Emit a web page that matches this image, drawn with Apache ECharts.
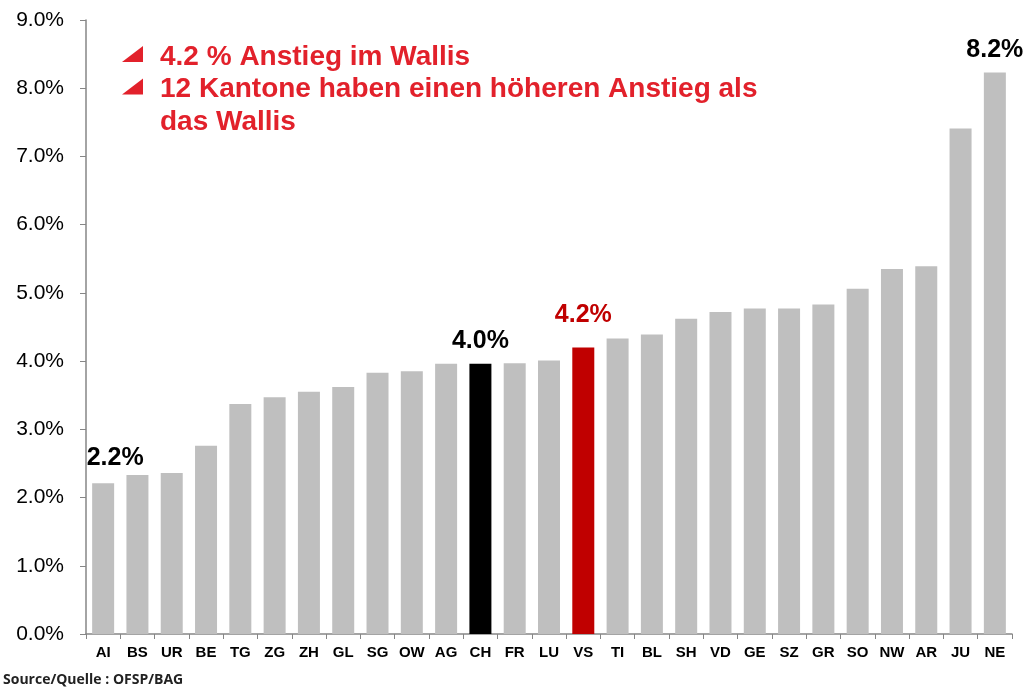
<!DOCTYPE html>
<html>
<head>
<meta charset="utf-8">
<script src="https://cdn.jsdelivr.net/npm/echarts@6/dist/echarts.min.js"></script>
<style>
  html, body { margin: 0; padding: 0; background: #fff; }
  #chart { width: 1029px; height: 689px; }
</style>
</head>
<body>
<div id="chart"></div>
<script>
  // Kantone, sortiert nach Anstieg
  const categories = ['AI', 'BS', 'UR', 'BE', 'TG', 'ZG', 'ZH', 'GL', 'SG', 'OW', 'AG', 'CH', 'FR', 'LU',
    'VS', 'TI', 'BL', 'SH', 'VD', 'GE', 'SZ', 'GR', 'SO', 'NW', 'AR', 'JU', 'NE']
  const values = [2.21, 2.33, 2.36, 2.76, 3.37, 3.47, 3.55, 3.62, 3.83, 3.85, 3.96, 3.96, 3.97, 4.01,
    4.20, 4.33, 4.39, 4.62, 4.72, 4.77, 4.77, 4.83, 5.06, 5.35, 5.39, 7.41, 8.23]
  const yTicks = [0, 1, 2, 3, 4, 5, 6, 7, 8, 9]
  const labelled = ['AI', 'CH', 'VS', 'NE']
  const notes = ['4.2 % Anstieg im Wallis', '12 Kantone haben einen höheren Anstieg als', 'das Wallis']
  const source = 'Source/Quelle : OFSP/BAG'

  const barColor = { CH: '#000000', VS: '#c00000' }
  const labelColor = { VS: '#c00000' }
  const labelOffset = { AI: [12, -3], VS: [0, -10] }

  const chart = echarts.init(document.getElementById('chart'))

  const seriesData = categories.map((c, i) => {
    const item = {
      value: values[i],
      itemStyle: { color: barColor[c] || '#bfbfbf' }
    }
    if (labelled.includes(c)) {
      item.label = {
        show: true,
        position: 'top',
        distance: 10,
        offset: labelOffset[c] || [0, 0],
        formatter: p => p.value.toFixed(1) + '%',
        fontFamily: 'Liberation Sans, Arial, sans-serif',
        fontWeight: 'bold',
        fontSize: 25,
        color: labelColor[c] || '#000'
      }
    }
    return item
  })

  // Kommentar oben links
  const red = '#e2212b'
  const graphics = []
  notes.forEach((t, i) => {
    const y = 44 + i * 32.6
    if (i < 2) {
      graphics.push({
        type: 'polygon',
        shape: { points: [[122, y + 18], [143, y + 18], [143, y + 2]] },
        style: { fill: red }
      })
    }
    graphics.push({
      type: 'text',
      left: 160,
      top: y - 1,
      style: {
        text: t,
        fill: red,
        font: 'bold 28px "Liberation Sans", Arial, sans-serif'
      }
    })
  })
  graphics.push({
    type: 'text',
    left: 3,
    top: 673,
    style: {
      text: source,
      fill: '#222',
      font: 'bold 14px "Open Sans", "Liberation Sans", sans-serif'
    }
  })

  chart.setOption({
    animation: false,
    grid: { left: 86, right: 17, top: 20, bottom: 55 },
    xAxis: {
      type: 'category',
      data: categories,
      axisLine: { lineStyle: { color: '#868686', width: 1.5 } },
      axisTick: { show: true, length: 5, lineStyle: { color: '#868686' } },
      axisLabel: {
        margin: 11,
        interval: 0,
        color: '#000',
        fontFamily: 'Liberation Sans, Arial, sans-serif',
        fontWeight: 'bold',
        fontSize: 15
      }
    },
    yAxis: {
      type: 'value',
      min: yTicks[0],
      max: yTicks[yTicks.length - 1],
      interval: 1,
      splitLine: { show: false },
      axisLine: { show: true, lineStyle: { color: '#868686', width: 1.5 } },
      axisTick: { show: true, length: 6, lineStyle: { color: '#868686' } },
      axisLabel: {
        margin: 22,
        color: '#000',
        fontFamily: 'Liberation Sans, Arial, sans-serif',
        fontSize: 21,
        formatter: v => v.toFixed(1) + '%'
      }
    },
    series: [{
      type: 'bar',
      data: seriesData,
      barWidth: 22
    }],
    graphic: graphics
  })
</script>
</body>
</html>
